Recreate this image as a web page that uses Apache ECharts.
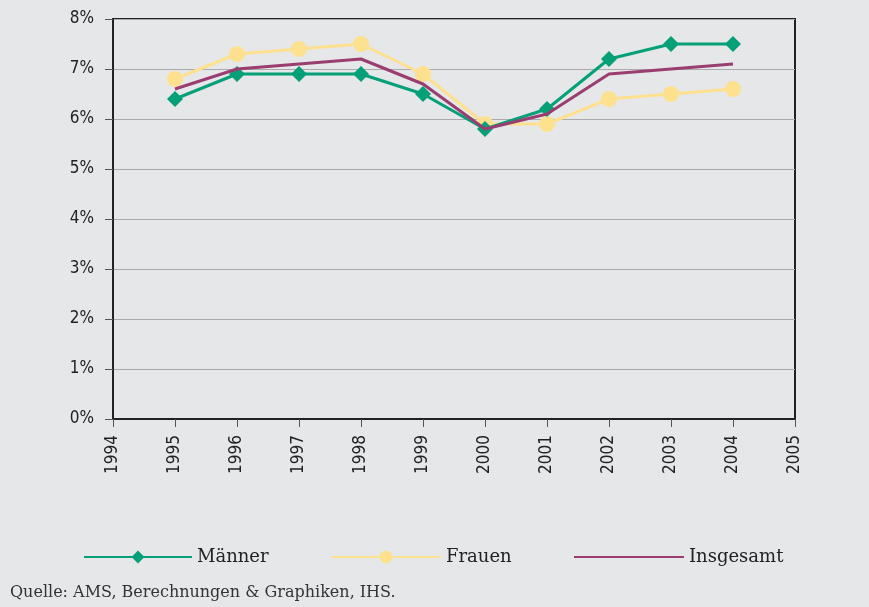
<!DOCTYPE html>
<html><head><meta charset="utf-8">
<script src="https://cdn.jsdelivr.net/npm/echarts@6/dist/echarts.min.js"></script>
<style>html,body{margin:0;padding:0;background:#e6e7e9;}#c{width:869px;height:607px;}</style>
</head><body><div id="c"></div>
<script>
const years = [1995,1996,1997,1998,1999,2000,2001,2002,2003,2004];
const maenner = [6.4,6.9,6.9,6.9,6.5,5.8,6.2,7.2,7.5,7.5];
const frauen = [6.8,7.3,7.4,7.5,6.9,5.9,5.9,6.4,6.5,6.6];
const insgesamt = [6.6,7.0,7.1,7.2,6.7,5.8,6.1,6.9,7.0,7.1];
const seriesNames = ['Männer','Frauen','Insgesamt'];
const source = 'Quelle: AMS, Berechnungen & Graphiken, IHS.';

const pair = arr => years.map((y,i)=>[y,arr[i]]);
const green='#05a077', yellow='#fde18f', purple='#9a3e72';
const legendText = {fontFamily:'DejaVu Serif',fontSize:18,color:'#222'};
const axisFont = {fontFamily:'DejaVu Sans Condensed',fontSize:17,color:'#222'};
const chart = echarts.init(document.getElementById('c'));
chart.setOption({
  backgroundColor:'#e6e7e9',
  animation:false,
  grid:{left:113,right:74,top:19,bottom:188,show:true,borderColor:'#222',borderWidth:2,backgroundColor:'transparent'},
  xAxis:{type:'value',min:1994,max:2005,interval:1,
    axisLine:{lineStyle:{color:'#222',width:2}},
    axisTick:{show:true,length:8,lineStyle:{color:'#555'}},
    splitLine:{show:false},
    axisLabel:Object.assign({rotate:90,margin:16,formatter:v=>String(v)},axisFont)},
  yAxis:{type:'value',min:0,max:8,interval:1,
    axisLine:{show:true,lineStyle:{color:'#222',width:2}},
    axisTick:{show:true,length:8,lineStyle:{color:'#555'}},
    splitLine:{lineStyle:{color:'#a9aaac',width:1}},
    axisLabel:Object.assign({margin:19,formatter:v=>v+'%'},axisFont)},
  legend:[
    {data:[seriesNames[0]],left:78,top:543,itemWidth:108,itemHeight:16,textStyle:legendText},
    {data:[seriesNames[1]],left:325,top:543,itemWidth:110,itemHeight:16,textStyle:legendText},
    {data:[seriesNames[2]],left:568,top:543,itemWidth:110,itemHeight:16,textStyle:legendText,itemStyle:{opacity:0}}
  ],
  graphic:[{type:'text',left:10,top:585,style:{text:source,fontFamily:'DejaVu Serif',fontSize:16,fill:'#333'}}],
  series:[
    {name:seriesNames[0],type:'line',data:pair(maenner),symbol:'diamond',symbolSize:16,
      lineStyle:{color:green,width:3},itemStyle:{color:green},z:3},
    {name:seriesNames[1],type:'line',data:pair(frauen),symbol:'circle',symbolSize:16,
      lineStyle:{color:yellow,width:3},itemStyle:{color:yellow},z:2},
    {name:seriesNames[2],type:'line',data:pair(insgesamt),symbol:'none',
      lineStyle:{color:purple,width:3},itemStyle:{color:purple},z:4}
  ]
});
</script></body></html>
